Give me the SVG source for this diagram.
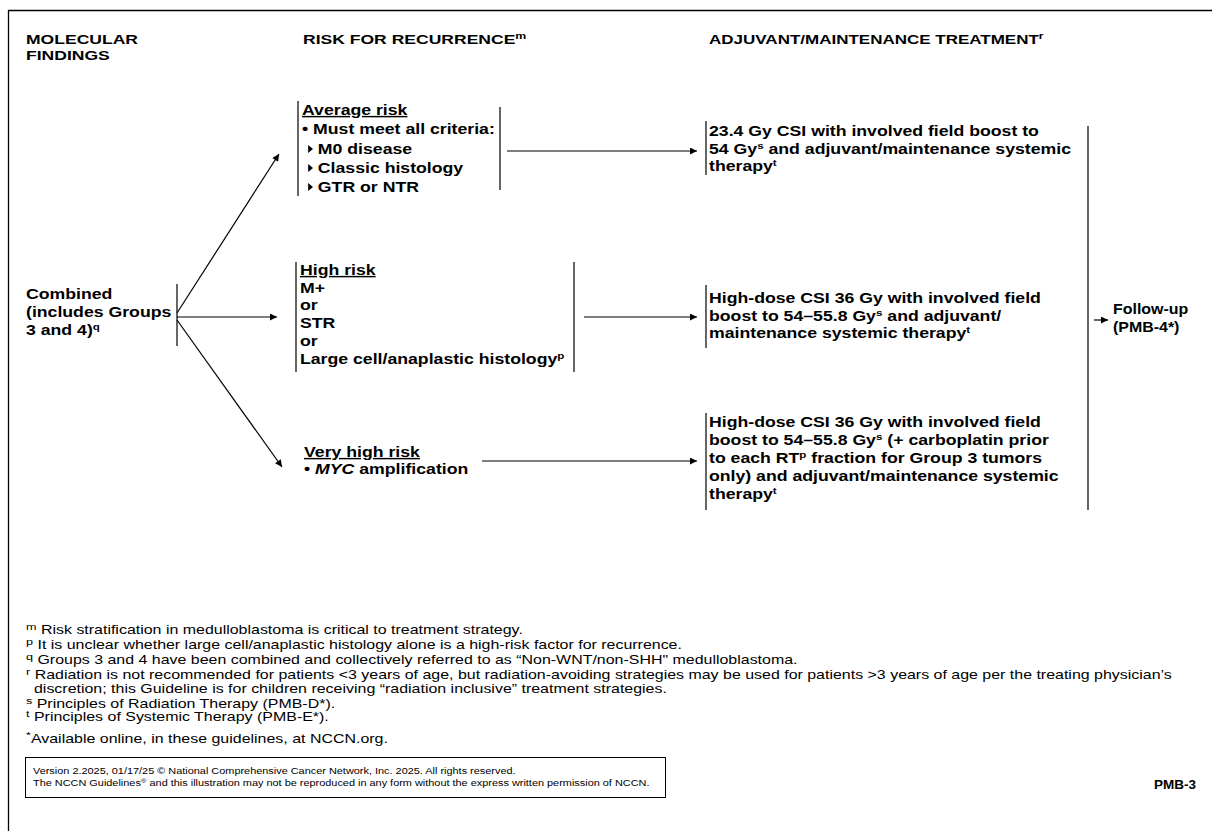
<svg xmlns="http://www.w3.org/2000/svg" width="1212" height="831" viewBox="0 0 1212 831">
<defs>
<marker id="ah" viewBox="0 0 10 10" refX="10" refY="5" markerWidth="9" markerHeight="7" markerUnits="userSpaceOnUse" orient="auto">
<path d="M0,0 L10,5 L0,10 z" fill="#000"/>
</marker>
<style>
text{font-family:"Liberation Sans",Arial,sans-serif;fill:#000}
.h{font-size:13.5px;font-weight:bold}
.b{font-size:14.5px;font-weight:bold}
.f{font-size:12px}
.c{font-size:8.6px}
.sup{font-size:9.5px}
.bar{stroke:#000;stroke-width:1.2;fill:none}
.con{stroke:#000;stroke-width:1.2;fill:none;marker-end:url(#ah)}
</style>
</defs>
<rect width="1212" height="831" fill="#fff"/>
<path d="M8.5,831 V10.5 H1212" stroke="#000" stroke-width="1.3" fill="none"/>

<g id="headers">
<g transform="translate(26,0) scale(1.3,1)">
<text class="h" x="0" y="44">MOLECULAR</text>
<text class="h" x="0" y="60">FINDINGS</text>
</g>
<g transform="translate(303,0) scale(1.3,1)">
<text class="h" x="0" y="44">RISK FOR RECURRENCE<tspan class="sup" dy="-5">m</tspan></text>
</g>
<g transform="translate(709,0) scale(1.26,1)">
<text class="h" x="0" y="44">ADJUVANT/MAINTENANCE TREATMENT<tspan class="sup" dy="-5">r</tspan></text>
</g>
</g>

<g id="combined">
<g transform="translate(26,0) scale(1.22,1)">
<text class="b" x="0" y="299">Combined</text>
<text class="b" x="0" y="317">(includes Groups</text>
<text class="b" x="0" y="335">3 and 4)<tspan class="sup" dy="-5">q</tspan></text>
</g>
<line class="bar" x1="177" y1="284" x2="177" y2="346"/>
</g>

<g id="average-risk">
<line class="bar" x1="298" y1="101" x2="298" y2="196"/>
<line class="bar" x1="500" y1="107" x2="500" y2="190"/>
<g transform="translate(302,0) scale(1.22,1)">
<text class="b" x="0" y="115" text-decoration="underline">Average risk</text>
<text class="b" x="0" y="134">• Must meet all criteria:</text>
<polygon points="5,145 9,149 5,153" fill="#000"/>
<text class="b" x="13" y="154">M0 disease</text>
<polygon points="5,164 9,168 5,172" fill="#000"/>
<text class="b" x="13" y="173">Classic histology</text>
<polygon points="5,183 9,187 5,191" fill="#000"/>
<text class="b" x="13" y="192">GTR or NTR</text>
</g>
</g>

<g id="high-risk">
<line class="bar" x1="296" y1="262" x2="296" y2="372"/>
<line class="bar" x1="574" y1="262" x2="574" y2="372"/>
<g transform="translate(300,0) scale(1.22,1)">
<text class="b" x="0" y="275" text-decoration="underline">High risk</text>
<text class="b" x="0" y="293">M+</text>
<text class="b" x="0" y="310">or</text>
<text class="b" x="0" y="328">STR</text>
<text class="b" x="0" y="346">or</text>
<text class="b" x="0" y="364">Large cell/anaplastic histology<tspan class="sup" dy="-5">p</tspan></text>
</g>
</g>

<g id="very-high-risk">
<g transform="translate(304,0) scale(1.22,1)">
<text class="b" x="0" y="457" text-decoration="underline">Very high risk</text>
<text class="b" x="0" y="474">• <tspan font-style="italic">MYC</tspan> amplification</text>
</g>
</g>

<g id="treatment-average">
<line class="bar" x1="706" y1="121" x2="706" y2="175"/>
<g transform="translate(709,0) scale(1.22,1)">
<text class="b" x="0" y="136">23.4 Gy CSI with involved field boost to</text>
<text class="b" x="0" y="154">54 Gy<tspan class="sup" dy="-5">s</tspan><tspan dy="5"> and adjuvant/maintenance systemic</tspan></text>
<text class="b" x="0" y="171">therapy<tspan class="sup" dy="-5">t</tspan></text>
</g>
</g>

<g id="treatment-high">
<line class="bar" x1="706" y1="285" x2="706" y2="348"/>
<g transform="translate(709,0) scale(1.22,1)">
<text class="b" x="0" y="303">High-dose CSI 36 Gy with involved field</text>
<text class="b" x="0" y="321">boost to 54–55.8 Gy<tspan class="sup" dy="-5">s</tspan><tspan dy="5"> and adjuvant/</tspan></text>
<text class="b" x="0" y="338">maintenance systemic therapy<tspan class="sup" dy="-5">t</tspan></text>
</g>
</g>

<g id="treatment-very-high">
<line class="bar" x1="706" y1="413" x2="706" y2="510"/>
<g transform="translate(709,0) scale(1.22,1)">
<text class="b" x="0" y="427">High-dose CSI 36 Gy with involved field</text>
<text class="b" x="0" y="445">boost to 54–55.8 Gy<tspan class="sup" dy="-5">s</tspan><tspan dy="5"> (+ carboplatin prior</tspan></text>
<text class="b" x="0" y="463">to each RT<tspan class="sup" dy="-5">p</tspan><tspan dy="5"> fraction for Group 3 tumors</tspan></text>
<text class="b" x="0" y="481">only) and adjuvant/maintenance systemic</text>
<text class="b" x="0" y="499">therapy<tspan class="sup" dy="-5">t</tspan></text>
</g>
</g>

<g id="follow-up">
<line class="bar" x1="1088" y1="126" x2="1088" y2="510"/>
<g transform="translate(1113,0) scale(1.1,1)">
<text class="b" x="0" y="314">Follow-up</text>
<text class="b" x="0" y="332">(PMB-4*)</text>
</g>
</g>

<g id="connectors">
<line class="con" x1="177" y1="313" x2="279" y2="154"/>
<line class="con" x1="177" y1="317" x2="277" y2="317"/>
<line class="con" x1="177" y1="320" x2="282" y2="467"/>
<line class="con" x1="507" y1="151" x2="697" y2="151"/>
<line class="con" x1="584" y1="317" x2="697" y2="317"/>
<line class="con" x1="482" y1="461" x2="697" y2="461"/>
<line class="con" x1="1094" y1="320" x2="1108" y2="320"/>
</g>

<g id="footnotes">
<g transform="translate(26,0) scale(1.33,1)">
<text class="f" x="0" y="634"><tspan class="sup" dy="-4">m</tspan><tspan dy="4"> Risk stratification in medulloblastoma is critical to treatment strategy.</tspan></text>
<text class="f" x="0" y="649"><tspan class="sup" dy="-4">p</tspan><tspan dy="4"> It is unclear whether large cell/anaplastic histology alone is a high-risk factor for recurrence.</tspan></text>
<text class="f" x="0" y="664"><tspan class="sup" dy="-4">q</tspan><tspan dy="4"> Groups 3 and 4 have been combined and collectively referred to as “Non-WNT/non-SHH" medulloblastoma.</tspan></text>
<text class="f" x="0" y="679"><tspan class="sup" dy="-4">r</tspan><tspan dy="4"> Radiation is not recommended for patients &lt;3 years of age, but radiation-avoiding strategies may be used for patients &gt;3 years of age per the treating physician’s</tspan></text>
<text class="f" x="6" y="693">discretion; this Guideline is for children receiving “radiation inclusive” treatment strategies.</text>
<text class="f" x="0" y="708"><tspan class="sup" dy="-4">s</tspan><tspan dy="4"> Principles of Radiation Therapy (PMB-D*).</tspan></text>
<text class="f" x="0" y="721"><tspan class="sup" dy="-4">t</tspan><tspan dy="4"> Principles of Systemic Therapy (PMB-E*).</tspan></text>
<text class="f" x="0" y="743" font-size="13"><tspan class="sup" dy="-5">*</tspan><tspan dy="5">Available online, in these guidelines, at NCCN.org.</tspan></text>
</g>
</g>

<g id="copyright">
<rect x="25.5" y="757.5" width="640" height="40" fill="none" stroke="#000" stroke-width="1"/>
<g transform="translate(33,0) scale(1.27,1)">
<text class="c" x="0" y="774">Version 2.2025, 01/17/25 © National Comprehensive Cancer Network, Inc. 2025. All rights reserved.</text>
<text class="c" x="0" y="786">The NCCN Guidelines<tspan font-size="6" dy="-3">®</tspan><tspan dy="3"> and this illustration may not be reproduced in any form without the express written permission of NCCN.</tspan></text>
</g>
</g>

<text class="h" x="1196" y="789" text-anchor="end">PMB-3</text>
</svg>
